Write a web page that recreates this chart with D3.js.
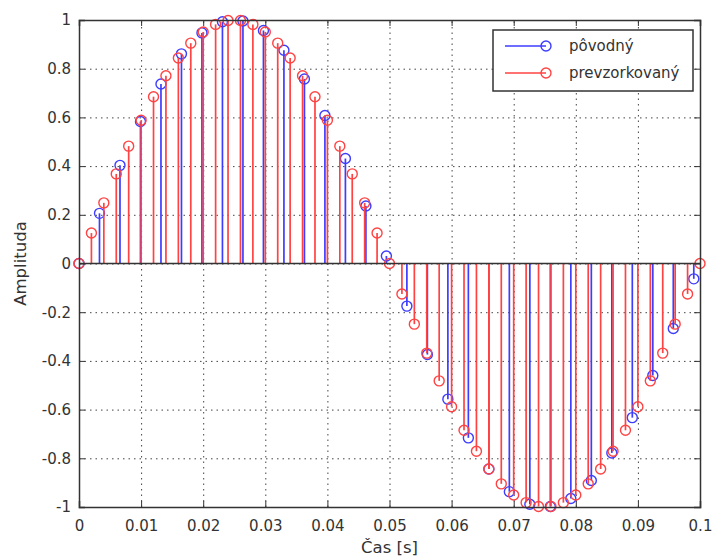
<!DOCTYPE html>
<html lang="sk">
<meta charset="utf-8">
<script src="https://d3js.org/d3.v7.js"></script>
<style>
  body { margin: 0; background: #fff; }
  text { font-family: "DejaVu Sans", Verdana, sans-serif; fill: #333; }
</style>
<body>
<div id="my_dataviz"></div>
<script>

// original signal (blue) - sample times and values
const tOrig = [0, 0.0033, 0.0066, 0.0099, 0.0132, 0.0165, 0.0198, 0.0231, 0.0264, 0.0297,
  0.0330, 0.0363, 0.0396, 0.0429, 0.0462, 0.0495, 0.0528, 0.0561, 0.0594, 0.0627,
  0.0660, 0.0693, 0.0726, 0.0759, 0.0792, 0.0825, 0.0858, 0.0891, 0.0924, 0.0957, 0.0990]
const yOrig = [0, 0.206, 0.403, 0.583, 0.737, 0.861, 0.947, 0.993, 0.996, 0.957,
  0.876, 0.758, 0.608, 0.431, 0.236, 0.031, -0.175, -0.374, -0.557, -0.716,
  -0.844, -0.937, -0.989, -0.998, -0.965, -0.891, -0.778, -0.633, -0.460, -0.267, -0.063]

// resampled signal (red)
const tRes = [0, 0.002, 0.004, 0.006, 0.008, 0.010, 0.012, 0.014, 0.016, 0.018,
  0.020, 0.022, 0.024, 0.026, 0.028, 0.030, 0.032, 0.034, 0.036, 0.038,
  0.040, 0.042, 0.044, 0.046, 0.048, 0.050, 0.052, 0.054, 0.056, 0.058,
  0.060, 0.062, 0.064, 0.066, 0.068, 0.070, 0.072, 0.074, 0.076, 0.078,
  0.080, 0.082, 0.084, 0.086, 0.088, 0.090, 0.092, 0.094, 0.096, 0.098, 0.100]
const yRes = [0, 0.125, 0.249, 0.368, 0.482, 0.588, 0.685, 0.771, 0.844, 0.905,
  0.951, 0.982, 0.998, 0.998, 0.982, 0.951, 0.905, 0.844, 0.771, 0.685,
  0.588, 0.482, 0.368, 0.249, 0.125, 0, -0.125, -0.249, -0.368, -0.482,
  -0.588, -0.685, -0.771, -0.844, -0.905, -0.951, -0.982, -0.998, -0.998, -0.982,
  -0.951, -0.905, -0.844, -0.771, -0.685, -0.588, -0.482, -0.368, -0.249, -0.125, 0]

const xTicks = [0, 0.01, 0.02, 0.03, 0.04, 0.05, 0.06, 0.07, 0.08, 0.09, 0.1]
const yTicks = [-1, -0.8, -0.6, -0.4, -0.2, 0, 0.2, 0.4, 0.6, 0.8, 1]
const legendNames = ["pôvodný", "prevzorkovaný"]

const margin = {top: 20, right: 12, bottom: 51, left: 79},
    width = 712 - margin.left - margin.right,
    height = 558 - margin.top - margin.bottom;

const blue = "#3d3dff", red = "#ff4343";

const svg = d3.select("#my_dataviz")
  .append("svg")
    .attr("width", 712)
    .attr("height", 558)
  .append("g")
    .attr("transform", `translate(${margin.left}, ${margin.top})`);

const x = d3.scaleLinear().domain([0, 0.1]).range([0, width]);
const y = d3.scaleLinear().domain([-1, 1]).range([height, 0]);

// dotted grid
svg.append("g")
  .attr("transform", `translate(0, ${height})`)
  .call(d3.axisBottom(x).tickValues(xTicks).tickSize(-height).tickFormat(""))
  .call(g => g.select(".domain").remove())
  .selectAll("line")
    .attr("stroke", "#444").attr("stroke-dasharray", "1.5,4").attr("stroke-width", 1);
svg.append("g")
  .call(d3.axisLeft(y).tickValues(yTicks).tickSize(-width).tickFormat(""))
  .call(g => g.select(".domain").remove())
  .selectAll("line")
    .attr("stroke", "#444").attr("stroke-dasharray", "1.5,4").attr("stroke-width", 1);

// stems
function stems(ts, ys, color) {
  const data = ts.map((t, i) => ({t: t, v: ys[i]}));
  const g = svg.append("g");
  g.selectAll("line")
    .data(data)
    .enter()
    .append("line")
      .attr("x1", d => x(d.t)).attr("x2", d => x(d.t))
      .attr("y1", y(0)).attr("y2", d => y(d.v))
      .attr("stroke", color)
      .attr("stroke-width", 1.7);
  g.selectAll("circle")
    .data(data)
    .enter()
    .append("circle")
      .attr("cx", d => x(d.t))
      .attr("cy", d => y(d.v))
      .attr("r", 5)
      .attr("fill", "none")
      .attr("stroke", color)
      .attr("stroke-width", 1.4);
}
stems(tOrig, yOrig, blue);
stems(tRes, yRes, red);

// stem baseline
svg.append("line")
  .attr("x1", 0).attr("x2", width)
  .attr("y1", y(0)).attr("y2", y(0))
  .attr("stroke", "#333").attr("stroke-width", 1.5);

// axes with inward ticks
const fmt = d => String(d);
svg.append("g")
  .attr("transform", `translate(0, ${height})`)
  .call(d3.axisBottom(x).tickValues(xTicks).tickSize(-6).tickPadding(13).tickFormat(fmt))
  .call(g => g.selectAll("text").style("font-size", "15px"));
svg.append("g")
  .call(d3.axisLeft(y).tickValues(yTicks).tickSize(-6).tickPadding(8).tickFormat(fmt))
  .call(g => g.selectAll("text").style("font-size", "15px"));
svg.append("g")
  .call(d3.axisTop(x).tickValues(xTicks).tickSize(-6).tickFormat(""));
svg.append("g")
  .attr("transform", `translate(${width}, 0)`)
  .call(d3.axisRight(y).tickValues(yTicks).tickSize(-6).tickFormat(""));
svg.selectAll(".domain").attr("stroke", "#333").attr("stroke-width", 1.5);
svg.selectAll(".tick line").filter(function() { return !this.getAttribute("stroke-dasharray"); })
  .attr("stroke", "#333");

// axis labels
svg.append("text")
  .attr("x", width / 2)
  .attr("y", height + 46)
  .style("text-anchor", "middle")
  .style("font-size", "16.5px")
  .text("Čas [s]");
svg.append("text")
  .attr("transform", `translate(${26 - margin.left}, ${height / 2}) rotate(-90)`)
  .style("text-anchor", "middle")
  .style("font-size", "16.5px")
  .text("Amplituda");

// legend
const legend = svg.append("g")
  .attr("transform", `translate(${493 - margin.left}, ${30 - margin.top})`);
legend.append("rect")
  .attr("width", 200).attr("height", 61)
  .attr("fill", "#fff").attr("stroke", "#333").attr("stroke-width", 1.5);
[blue, red].forEach(function(c, i) {
  const ly = 16 + i * 27;
  legend.append("line")
    .attr("x1", 12).attr("x2", 53).attr("y1", ly).attr("y2", ly)
    .attr("stroke", c).attr("stroke-width", 1.7);
  legend.append("circle")
    .attr("cx", 53).attr("cy", ly).attr("r", 5)
    .attr("fill", "none").attr("stroke", c).attr("stroke-width", 1.4);
  legend.append("text")
    .attr("x", 76).attr("y", ly + 5)
    .style("font-size", "15px")
    .text(legendNames[i]);
});

</script>
</body>
</html>
